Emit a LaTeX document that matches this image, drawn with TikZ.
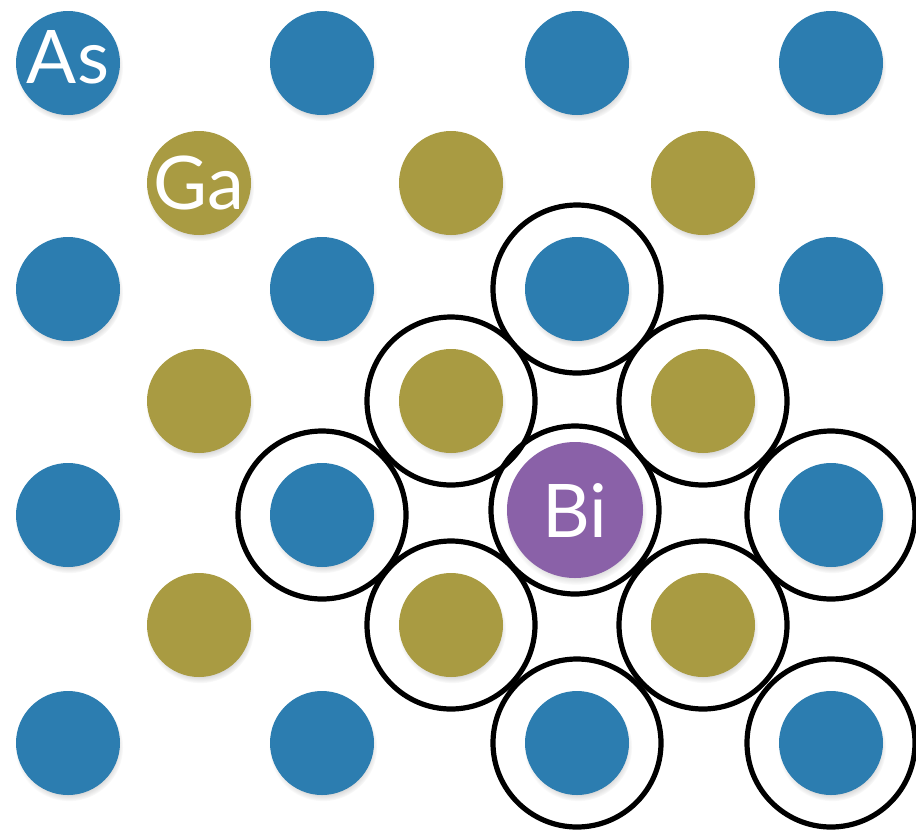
\documentclass[tikz,border=0pt]{standalone}
\usepackage{fontspec}
\setmainfont{Lato}
\usetikzlibrary{shadows,fadings}
\definecolor{asblue}{HTML}{2C7DB0}
\definecolor{gagold}{HTML}{A99B42}
\definecolor{bipurple}{HTML}{8A61A8}
\begin{document}
\begin{tikzpicture}[x=1pt,y=-1pt,
  atom/.style={circle,inner sep=0pt,minimum size=104pt,
    circular drop shadow={shadow xshift=1pt,shadow yshift=-4pt,shadow scale=1.04,opacity=0.35}},
  asatom/.style={atom,fill=asblue},
  gaatom/.style={atom,fill=gagold},
  biatom/.style={atom,fill=bipurple,minimum size=136pt},
  shell/.style={circle,draw=black,line width=5.2pt,minimum size=168pt,inner sep=0pt},
  symbol/.style={text=white,inner sep=0pt,font=\fontsize{74}{74}\selectfont}]
\useasboundingbox (0,0) rectangle (916,831);
\fill[white] (0,0) rectangle (916,831);

% arsenic sublattice (the impurity takes the site in row 3, column 3)
\foreach \y [count=\r] in {63,289,515,743}
  \foreach \x [count=\c] in {68,322,577,831}{
    \ifnum\r=3 \ifnum\c=3 \else
      \node[asatom] (a-\r-\c) at (\x,\y) {};
    \fi \else
      \node[asatom] (a-\r-\c) at (\x,\y) {};
    \fi
  }

% gallium sublattice
\foreach \y [count=\r] in {183,401,625}
  \foreach \x [count=\c] in {199,451,703}
    \node[gaatom] (g-\r-\c) at (\x,\y) {};

% bismuth impurity
\node[biatom] (bi) at (575,510) {};

% element symbols
\node[symbol,yshift=6pt] at (a-1-1) {As};
\node[symbol] at (g-1-1) {Ga};
\node[symbol] at (bi) {Bi};

% neighbour shells around the impurity
\foreach \n in {a-2-3,g-2-2,g-2-3,a-3-2,bi,a-3-4,g-3-2,g-3-3,a-4-3,a-4-4}
  \node[shell] (s-\n) at (\n) {};
\end{tikzpicture}
\end{document}
